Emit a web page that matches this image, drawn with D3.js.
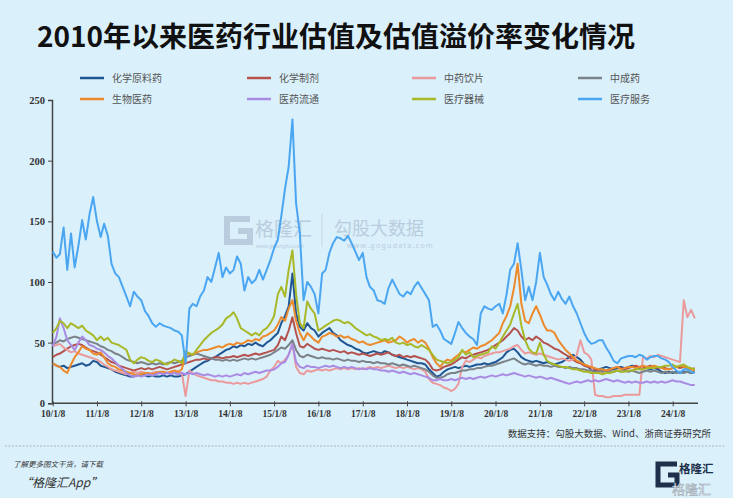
<!DOCTYPE html>
<html><head><meta charset="utf-8">
<script src="https://cdn.jsdelivr.net/npm/d3@7"></script>
<style>
html,body{margin:0;padding:0;background:#daf0fb;}
svg{display:block;}
</style></head><body>
<svg id="c" width="733" height="498"></svg>
<script>
// ---------- data ----------
const seriesNames = ["化学原料药","化学制剂","中药饮片","中成药","生物医药","医药流通","医疗器械","医疗服务"];
const seriesColors = ["#1f5592","#b5524e","#eb9a9c","#7b8288","#ec8a2c","#a98be3","#a9b826","#4ba6f2"];
const tickLabels = ["10/1/8","11/1/8","12/1/8","13/1/8","14/1/8","15/1/8","16/1/8","17/1/8","18/1/8","19/1/8","20/1/8","21/1/8","22/1/8","23/1/8","24/1/8"];
const yTicks = [0,50,100,150,200,250];
// monthly observations, Jan 2010 .. Jul 2024
const chemAPI = [33,31,30,31,29,30,31,32,33,31,32,35,34,31,30,29,28,26,25,24,23,22,22,23,24,23,22,23,22,22,23,22,23,22,22,23,24,26,28,30,32,34,35,37,38,40,42,44,45,47,46,48,47,49,48,50,48,47,50,52,55,58,66,72,80,107,74,63,60,66,62,60,55,58,60,62,58,56,52,50,48,47,45,44,42,41,42,43,42,41,43,42,40,39,38,37,36,35,34,33,33,32,28,25,22,23,26,28,29,30,29,30,31,30,31,32,32,33,32,33,34,36,38,42,44,45,42,38,36,35,34,35,34,33,34,33,32,33,34,36,38,40,38,36,32,30,28,27,28,29,30,29,28,29,30,29,30,31,30,29,30,29,28,29,28,26,25,26,25,26,25,26,26,25,26];
const chemPrep = [38,40,41,43,45,47,48,49,48,46,44,43,42,40,38,36,34,33,31,30,29,28,27,28,29,28,29,28,29,30,29,28,29,30,31,32,33,34,35,36,36,37,36,37,38,38,37,38,38,39,38,39,40,39,40,41,40,41,42,43,44,48,55,52,60,71,58,47,46,49,47,45,44,45,44,43,44,43,42,43,41,42,41,40,41,40,39,40,41,40,41,42,40,39,40,38,39,38,39,38,37,36,33,28,27,28,30,31,32,34,36,38,37,39,40,41,42,43,44,46,48,50,52,55,58,62,60,55,52,54,52,55,53,50,49,47,45,44,42,40,38,36,34,33,31,30,29,28,27,26,27,28,29,30,29,28,29,30,31,30,29,30,31,30,29,30,29,28,29,30,29,30,29,28,29];
const tcmPieces = [47,48,49,46,44,42,43,41,40,39,38,37,36,34,32,30,28,27,26,25,24,25,26,25,26,25,24,25,26,25,26,25,26,25,26,25,6,27,25,23,22,21,20,19,19,18,18,17,17,16,17,16,17,16,17,18,19,20,22,27,30,35,33,36,40,49,30,25,24,27,26,27,28,27,28,27,28,29,28,29,28,29,28,29,28,29,30,29,30,29,30,31,30,29,30,29,30,29,28,29,28,26,20,17,16,15,13,12,10,12,16,30,35,34,36,38,37,39,40,41,42,42,43,44,45,47,48,44,41,42,41,40,41,40,39,38,37,36,37,36,35,36,40,52,42,40,36,7,6,6,5,5,6,6,6,7,7,7,7,7,38,37,39,38,40,39,38,37,36,35,34,85,71,77,70];
const tcmPatent = [49,50,52,51,53,54,55,54,53,52,51,50,49,47,46,44,43,41,40,38,36,35,34,33,34,33,32,33,32,33,32,33,34,33,34,35,38,39,40,41,40,39,38,37,36,36,35,36,35,36,35,36,37,36,37,36,37,38,39,40,42,44,46,45,48,52,44,39,38,40,39,38,37,38,37,37,36,37,36,35,36,35,35,34,35,34,34,33,34,33,33,32,33,32,31,32,31,30,31,30,29,28,26,23,21,21,22,24,25,25,26,27,27,28,28,29,29,30,31,31,32,33,34,35,36,37,35,33,32,33,32,31,32,31,31,30,31,30,30,29,30,29,29,28,28,27,27,26,26,27,26,27,26,27,26,27,26,27,26,25,26,27,26,27,26,25,26,25,26,25,26,25,26,25,26];
const bioMed = [33,31,30,27,25,32,38,42,47,45,44,41,40,42,38,33,31,30,28,27,26,25,24,23,24,25,25,24,25,26,26,25,26,27,26,28,40,41,40,42,43,44,44,45,46,47,46,48,49,48,50,49,50,52,51,53,52,55,56,58,60,65,71,68,78,85,68,58,52,58,55,52,50,55,56,58,57,55,56,54,55,53,52,50,51,49,48,49,50,51,52,50,51,52,55,53,50,52,53,50,52,50,45,38,33,30,34,36,35,38,40,43,42,44,46,45,47,48,50,52,55,58,66,72,80,95,115,82,68,66,74,80,73,65,60,60,58,52,48,44,41,38,35,34,32,31,30,29,28,28,27,28,29,30,28,29,30,30,29,30,31,30,30,31,30,29,28,28,29,30,31,30,29,28,27];
const pharmaDist = [47,55,70,62,52,48,44,50,55,52,48,47,45,44,42,39,37,34,31,28,25,23,22,23,22,23,24,23,24,25,24,25,24,25,24,25,24,25,24,25,24,23,24,23,22,23,22,23,22,23,24,23,25,24,25,26,25,26,27,27,28,30,33,34,40,49,34,30,29,31,30,30,29,30,31,30,31,30,29,30,29,30,29,28,29,28,29,28,28,27,27,26,27,26,25,26,25,24,25,24,23,22,21,19,19,20,19,19,20,19,20,21,20,21,20,21,22,21,22,23,22,23,24,23,24,25,24,23,22,23,22,21,22,21,20,21,20,19,18,17,16,17,18,17,18,19,18,19,18,19,20,19,18,19,18,17,18,17,18,17,17,18,17,18,17,18,17,18,19,18,18,17,16,15,15];
const medDevice = [58,62,68,66,62,66,64,62,64,60,58,56,52,55,52,54,50,49,48,46,44,36,33,36,38,37,35,34,36,35,33,32,34,36,35,33,43,41,40,44,48,52,55,58,60,62,65,70,72,75,70,62,60,58,56,58,56,60,62,66,72,90,96,88,110,126,90,66,62,84,78,74,60,62,64,66,68,69,68,66,67,65,62,60,58,56,57,55,54,52,53,52,54,50,49,50,48,49,47,46,48,46,44,40,36,35,34,33,34,36,38,44,40,42,38,39,40,41,42,47,45,50,55,60,65,74,82,64,52,45,42,41,50,40,35,33,32,31,30,30,29,28,28,27,26,26,25,25,25,24,25,25,26,27,26,26,27,27,28,28,28,29,29,29,30,30,31,31,32,30,31,32,30,29,28];
const medService = [125,120,123,145,110,140,112,130,151,135,156,170,150,137,148,138,115,107,104,96,88,80,92,88,85,76,72,66,63,66,64,63,62,60,59,56,33,78,82,80,88,93,104,100,112,124,104,112,107,110,121,115,93,104,99,102,110,102,110,118,128,135,154,177,195,234,165,140,85,100,96,90,74,107,110,124,132,137,136,134,138,132,125,118,124,104,96,93,85,84,82,95,102,96,90,88,92,90,96,100,95,90,85,63,65,60,53,51,49,58,67,62,58,55,53,48,74,80,78,77,80,82,74,90,110,115,132,110,85,96,85,100,124,104,98,90,85,92,86,82,88,80,74,66,58,52,49,50,52,52,46,41,35,33,37,38,39,39,38,40,39,36,38,39,39,37,36,34,30,27,25,28,28,26,25];
const seriesValues = [chemAPI, chemPrep, tcmPieces, tcmPatent, bioMed, pharmaDist, medDevice, medService];
const dates = d3.range(chemAPI.length).map(i => new Date(2010, i, 8));
const tickDates = tickLabels.map((d, i) => new Date(2010 + i, 0, 8));

// ---------- drawing ----------
const svg = d3.select("#c");
svg.append("rect").attr("width",733).attr("height",498).attr("fill","#daf0fb");

const x = d3.scaleTime().domain([new Date(2010,0,8), new Date(2024,0,8)]).range([52.7, 672.7]);
const y = d3.scaleLinear().domain([0,250]).range([403.3, 100]);

// title
svg.append("text").attr("x",37).attr("y",47)
  .style("font-family","'Noto Sans CJK SC'").style("font-weight","700").style("font-size","28px")
  .attr("fill","#111").text("2010年以来医药行业估值及估值溢价率变化情况");

// watermark
const wm = svg.append("g").attr("fill","#b6cadb").attr("opacity",0.9);
wm.append("path").attr("d","M250,219 L227,219 L227,242 L250,242 L250,231 L238,231")
  .attr("fill","none").attr("stroke","#b6cadb").attr("stroke-width",6);
wm.append("text").attr("x",255).attr("y",236).style("font-family","'Noto Sans CJK SC'").style("font-size","19px").text("格隆汇");
wm.append("text").attr("x",256).attr("y",248).style("font-family","'Noto Sans'").style("font-size","5px").text("www.gelonghui.com");
wm.append("line").attr("x1",322).attr("x2",322).attr("y1",214).attr("y2",247).attr("stroke","#c3d5e3").attr("stroke-width",1);
wm.append("text").attr("x",334).attr("y",235).style("font-family","'Noto Sans CJK SC'").style("font-size","18px").text("勾股大数据");
wm.append("text").attr("x",347).attr("y",248).style("font-family","'Noto Sans'").style("font-size","7px").style("letter-spacing","1.3px").text("www.gogudata.com");

// axes
const yAxis = svg.append("g").attr("transform","translate(52,0)")
  .call(d3.axisLeft(y).tickValues(yTicks).tickSize(4).tickPadding(3));
yAxis.select(".domain").attr("stroke","#444").attr("stroke-width",1.5);
yAxis.selectAll(".tick line").attr("stroke","#444");
yAxis.selectAll(".tick text").style("font-family","'Liberation Serif'").style("font-weight","700")
  .style("font-size","10.5px").attr("fill","#333");

const xAxis = svg.append("g").attr("transform","translate(0,403.3)")
  .call(d3.axisBottom(x).tickValues(tickDates).tickFormat((d,i)=>tickLabels[i]).tickSize(3).tickSizeOuter(0).tickPadding(4));
xAxis.select(".domain").remove();
xAxis.append("line").attr("x1",52).attr("x2",698).attr("y1",0).attr("y2",0).attr("stroke","#444").attr("stroke-width",1.5);
xAxis.selectAll(".tick line").attr("stroke","#444").attr("y1",-2);
xAxis.selectAll(".tick text").style("font-family","'Liberation Serif'").style("font-weight","700")
  .style("font-size","9.5px").attr("fill","#333");

// lines
const line = d3.line().x((d,i)=>x(dates[i])).y(d=>y(d)).curve(d3.curveLinear);
const lg = svg.append("g");
seriesValues.forEach((vals, k) => {
  lg.append("path").datum(vals).attr("d", line).attr("fill","none")
    .attr("stroke", seriesColors[k]).attr("stroke-width",2).attr("stroke-linejoin","round");
});

// legend
const colX = [80, 247, 412, 578], rowY = [78, 99];
seriesNames.forEach((n, k) => {
  const cx = colX[k % 4], cy = rowY[Math.floor(k / 4)];
  svg.append("line").attr("x1",cx).attr("x2",cx+24).attr("y1",cy).attr("y2",cy)
    .attr("stroke",seriesColors[k]).attr("stroke-width",2.5);
  svg.append("text").attr("x",cx+32).attr("y",cy+3.5)
    .style("font-family","'Noto Sans CJK SC'").style("font-size","10px").attr("fill","#555").text(n);
});

// source
svg.append("text").attr("x",711).attr("y",437).attr("text-anchor","end")
  .style("font-family","'Noto Sans CJK SC'").style("font-size","9.5px").attr("fill","#333")
  .text("数据支持：勾股大数据、Wind、浙商证券研究所");

// separator
svg.append("line").attr("x1",5).attr("x2",725).attr("y1",446).attr("y2",446)
  .attr("stroke","#aab4bc").attr("stroke-width",1).attr("stroke-dasharray","2,1.5");

// footer
svg.append("text").attr("x",13).attr("y",467).style("font-family","'Noto Sans CJK SC'")
  .style("font-size","7.5px").style("font-style","italic").attr("fill","#333").text("了解更多图文干货，请下载");
svg.append("text").attr("x",20).attr("y",487).style("font-family","'Noto Sans CJK SC'")
  .style("font-size","12px").style("font-style","italic").attr("fill","#333").text("“格隆汇App”");

// logo bottom right
const lo = svg.append("g");
lo.append("path").attr("d","M677,464 L658,464 L658,485 L677,485 L677,475 L668,475")
  .attr("fill","none").attr("stroke","#1d2f4a").attr("stroke-width",5);
lo.append("text").attr("x",679).attr("y",473).style("font-family","'Noto Sans CJK SC'").style("font-weight","700")
  .style("font-size","11.5px").attr("fill","#1d2f4a").text("格隆汇");
lo.append("text").attr("x",672).attr("y",494).style("font-family","'Noto Sans CJK SC'")
  .style("font-size","13px").attr("fill","#f4f8fb").attr("stroke","#9aa6b0").attr("stroke-width",0.5).text("格隆汇");
</script>
</body></html>
